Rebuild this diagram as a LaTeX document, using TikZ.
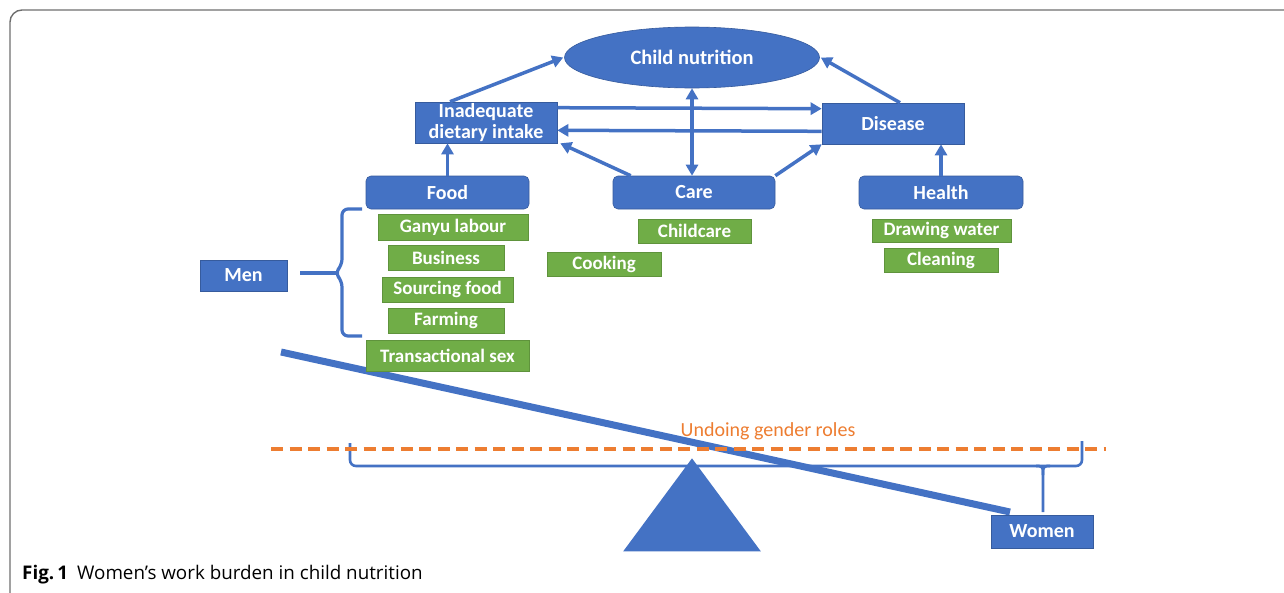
\documentclass[tikz,border=0pt]{standalone}
\usepackage{fontspec}
\setmainfont{Carlito}
\newfontfamily\capfont{Open Sans}
\usetikzlibrary{arrows.meta,shapes.geometric}
\definecolor{cblue}{HTML}{4472C4}
\definecolor{cgreen}{HTML}{70AD47}
\definecolor{corange}{HTML}{ED7D31}
\definecolor{cframe}{HTML}{6E6E6E}
\tikzset{
  bbox/.style={fill=cblue, draw=cblue!80!black, line width=0.6pt, text=white, font=\bfseries\fontsize{20}{21}\selectfont, inner sep=0pt, align=center},
  rbox/.style={bbox, rounded corners=5pt},
  gbox/.style={fill=cgreen, draw=cgreen!85!black, line width=0.5pt, text=white, font=\bfseries\fontsize{19}{20}\selectfont, inner sep=0pt},
  arr/.style={cblue, line width=3.5pt, -{Triangle[length=11pt,width=12pt]}},
  darr/.style={cblue, line width=3.5pt, {Triangle[length=11pt,width=12pt]}-{Triangle[length=11pt,width=12pt]}},
}
\begin{document}
\begin{tikzpicture}[x=1pt,y=-1pt]
\useasboundingbox (0,0) rectangle (1284,592);
% frame
\draw[cframe, line width=1.4pt, rounded corners=12pt] (10,600) -- (10,10) -- (1295,10);
% caption
\node[anchor=west, inner sep=0pt, font=\capfont\fontsize{18.8}{20}\selectfont] (cap) at (22,575) {\textbf{Fig.\,1}\hspace{9pt}Women’s work burden in child nutrition};

% top nodes
\node[ellipse, fill=cblue, draw=cblue!80!black, line width=0.6pt, minimum width=255, minimum height=61, inner sep=0pt, text=white, font=\bfseries\fontsize{20.5}{22}\selectfont] (cn) at (692,57.5) {Child nutrition};
\node[bbox, minimum width=142, minimum height=41, font=\bfseries\fontsize{20}{21.5}\selectfont] (inad) at (486,122.5) {Inadequate\\dietary intake};
\node[bbox, minimum width=142, minimum height=41] (dis) at (893,123.5) {Disease};
\node[rbox, minimum width=163, minimum height=33] (food) at (447.5,192.5) {Food};
\node[rbox, minimum width=162, minimum height=33] (care) at (694,192.5) {Care};
\node[rbox, minimum width=164, minimum height=33] (health) at (941,192.5) {Health};

% green items
\node[gbox, minimum width=150, minimum height=26] (ganyu) at (453,227) {Ganyu labour};
\node[gbox, minimum width=116, minimum height=25] (bus) at (446,257.5) {Business};
\node[gbox, minimum width=131, minimum height=25] (src) at (447.5,289.5) {Sourcing food};
\node[gbox, minimum width=116, minimum height=25] (farm) at (446,320.5) {Farming};
\node[gbox, minimum width=113, minimum height=24] (child) at (694.5,231) {Childcare};
\node[gbox, minimum width=114, minimum height=24] (cook) at (604,264) {Cooking};
\node[gbox, minimum width=139, minimum height=23] (draw) at (941.5,230.5) {Drawing water};
\node[gbox, minimum width=114, minimum height=24] (clean) at (941,260) {Cleaning};
\node[bbox, minimum width=87, minimum height=31] (men) at (243.5,275.5) {Men};

% arrows
\draw[arr] ([xshift=-36pt]inad.north) -- ([xshift=-1pt]cn.west);
\draw[arr] ([xshift=7pt]dis.north) -- ([xshift=1pt]cn.east);
\draw[darr] (cn.south) -- (care.north -| cn.south);
\draw[arr] ([yshift=-6pt]inad.north east) -- ([yshift=-6pt]dis.north west);
\draw[arr] ([yshift=13pt]dis.south west) -- ([yshift=13pt]inad.south east);
\draw[arr] ([xshift=18pt]care.north west) -- ([xshift=3pt]inad.south east);
\draw[arr] (care.north east) -- (dis.south west);
\draw[arr] (food.north) -- (food.north |- inad.south);
\draw[arr] (health.north) -- (health.north |- dis.south);

% Men brace
\coordinate (bst) at (300,273);
\draw[cblue, line width=3.2pt, rounded corners=6pt] (362,209) -- (342,209) -- (342,265) -- (335,273) -- (342,281) -- (342,336) -- (362,336);
\draw[cblue, line width=3.2pt] (bst) -- (337,273);

% seesaw
\coordinate (bl) at (281,352);
\coordinate (br) at (1010,512);
\draw[cblue, line width=2.6pt, rounded corners=6pt] (350,443) -- (350,466) -- (1082,466) -- (1082,441);
\draw[cblue, line width=2.6pt, rounded corners=4pt] (1036,466) -- (1043,466) -- (1043,512);
\draw[cblue, line width=2.6pt, rounded corners=4pt] (1050,466) -- (1043,466) -- (1043,475);
\node[isosceles triangle, shape border rotate=90, isosceles triangle apex angle=73, fill=cblue, inner sep=0pt, minimum height=93, minimum width=137, anchor=apex] (tri) at (692,458) {};
\draw[cblue, line width=7pt] (bl) -- (br);
\node[gbox, minimum width=163, minimum height=31] (trans) at (447.5,355.5) {Transactional sex};
\node[bbox, minimum width=102, minimum height=33] (women) at (1042,531.5) {Women};

% dashed line
\coordinate (dl) at (271,449);
\coordinate (dr) at (1106,449);
\draw[corange, line width=3.6pt, dash pattern=on 12pt off 6.5pt] (dl) -- (dr);
\node[text=corange, font=\fontsize{20}{22}\selectfont, inner sep=0pt] (undo) at (768,431) {Undoing gender roles};
\end{tikzpicture}
\end{document}
